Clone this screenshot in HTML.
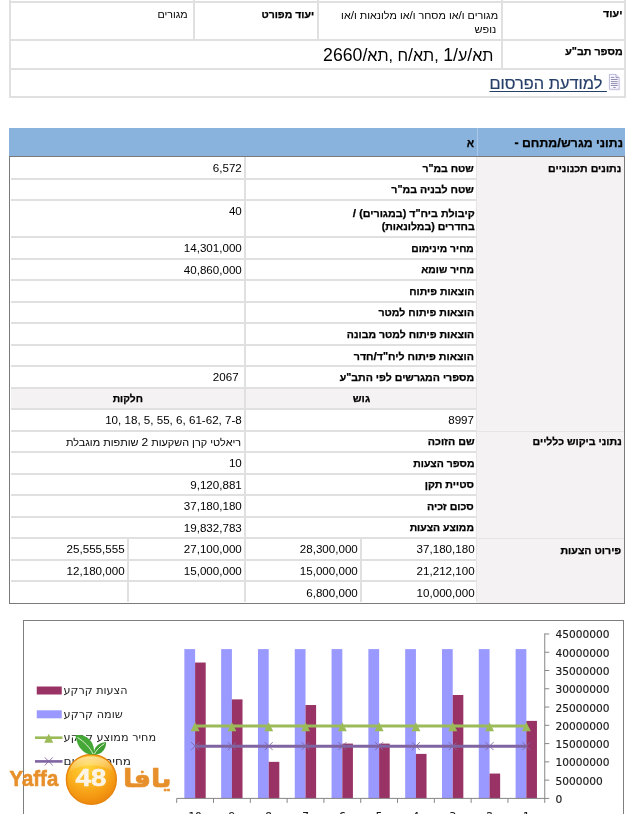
<!DOCTYPE html>
<html lang="he"><head><meta charset="utf-8"><title>נתוני מגרש</title>
<style>html,body{margin:0;padding:0;background:#fff}body{position:relative;width:640px;height:814px;overflow:hidden;font-family:'Liberation Sans','DejaVu Sans',sans-serif}</style>
</head><body>
<div style="position:absolute;left:9px;top:1px;width:617px;height:2px;background:#e0e0e0;"></div>
<div style="position:absolute;left:9px;top:39px;width:617px;height:2px;background:#e0e0e0;"></div>
<div style="position:absolute;left:9px;top:68px;width:617px;height:2px;background:#e0e0e0;"></div>
<div style="position:absolute;left:9px;top:96px;width:617px;height:2px;background:#e0e0e0;"></div>
<div style="position:absolute;left:9px;top:0px;width:2px;height:98px;background:#e0e0e0;"></div>
<div style="position:absolute;left:624px;top:0px;width:2px;height:98px;background:#e0e0e0;"></div>
<div style="position:absolute;left:193px;top:0px;width:2px;height:39px;background:#e0e0e0;"></div>
<div style="position:absolute;left:317px;top:0px;width:2px;height:39px;background:#e0e0e0;"></div>
<div style="position:absolute;left:501px;top:0px;width:2px;height:68px;background:#e0e0e0;"></div>
<div style="position:absolute;left:9px;top:128px;width:616px;height:29px;background:#89b3dd;"></div>
<div style="position:absolute;left:477px;top:128px;width:1px;height:28px;background:#a9c8e8;"></div>
<div style="position:absolute;left:9px;top:156px;width:616px;height:1px;background:#7a7a7a;"></div>
<div style="position:absolute;left:477px;top:157px;width:147px;height:446px;background:#f4f2f3;"></div>
<div style="position:absolute;left:11px;top:178px;width:466px;height:2px;background:#e0e0e0;"></div>
<div style="position:absolute;left:11px;top:199px;width:466px;height:2px;background:#e0e0e0;"></div>
<div style="position:absolute;left:11px;top:236px;width:466px;height:2px;background:#e0e0e0;"></div>
<div style="position:absolute;left:11px;top:258px;width:466px;height:2px;background:#e0e0e0;"></div>
<div style="position:absolute;left:11px;top:279px;width:466px;height:2px;background:#e0e0e0;"></div>
<div style="position:absolute;left:11px;top:301px;width:466px;height:2px;background:#e0e0e0;"></div>
<div style="position:absolute;left:11px;top:322px;width:466px;height:2px;background:#e0e0e0;"></div>
<div style="position:absolute;left:11px;top:344px;width:466px;height:2px;background:#e0e0e0;"></div>
<div style="position:absolute;left:11px;top:365px;width:466px;height:2px;background:#e0e0e0;"></div>
<div style="position:absolute;left:11px;top:387px;width:466px;height:2px;background:#e0e0e0;"></div>
<div style="position:absolute;left:11px;top:408px;width:466px;height:2px;background:#e0e0e0;"></div>
<div style="position:absolute;left:11px;top:430px;width:466px;height:2px;background:#e0e0e0;"></div>
<div style="position:absolute;left:11px;top:451px;width:466px;height:2px;background:#e0e0e0;"></div>
<div style="position:absolute;left:11px;top:473px;width:466px;height:2px;background:#e0e0e0;"></div>
<div style="position:absolute;left:11px;top:494px;width:466px;height:2px;background:#e0e0e0;"></div>
<div style="position:absolute;left:11px;top:516px;width:466px;height:2px;background:#e0e0e0;"></div>
<div style="position:absolute;left:11px;top:537px;width:466px;height:2px;background:#e0e0e0;"></div>
<div style="position:absolute;left:11px;top:559px;width:466px;height:2px;background:#e0e0e0;"></div>
<div style="position:absolute;left:11px;top:580px;width:466px;height:2px;background:#e0e0e0;"></div>
<div style="position:absolute;left:11px;top:389px;width:466px;height:19px;background:#f4f2f3;"></div>
<div style="position:absolute;left:477px;top:431px;width:147px;height:1px;background:#e6e4e5;"></div>
<div style="position:absolute;left:477px;top:538px;width:147px;height:1px;background:#e6e4e5;"></div>
<div style="position:absolute;left:244px;top:157px;width:2px;height:382px;background:#e0e0e0;"></div>
<div style="position:absolute;left:476px;top:157px;width:1px;height:445px;background:#e6e4e5;"></div>
<div style="position:absolute;left:244px;top:539px;width:2px;height:63px;background:#e0e0e0;"></div>
<div style="position:absolute;left:127px;top:539px;width:2px;height:63px;background:#e0e0e0;"></div>
<div style="position:absolute;left:360px;top:539px;width:2px;height:63px;background:#e0e0e0;"></div>
<div style="position:absolute;left:9px;top:156px;width:1px;height:448px;background:#7a7a7a;"></div>
<div style="position:absolute;left:624px;top:156px;width:1px;height:448px;background:#7a7a7a;"></div>
<div style="position:absolute;left:9px;top:603px;width:616px;height:1px;background:#7a7a7a;"></div>
<svg width="14" height="18" viewBox="0 0 14 18" style="position:absolute;left:608px;top:73px"><path d="M1.4 1.4H7.9L11.1 4.6V16.3H1.4Z" fill="#f8f7fd" stroke="#aeabd3" stroke-width="0.8"/><path d="M7.9 1.4V4.6H11.1" fill="#e6e3f5" stroke="#a19dca" stroke-width="0.7"/><path d="M2.9 4.4H6.3M8.3 4.4H9.7M2.9 6.5H9.7M2.9 8.6H9.7M2.9 10.6H9.7M2.9 12.5H9.7M5.3 14.5H7.6" stroke="#77739f" stroke-width="0.8" fill="none"/><path d="M1.8 16.9H11.7M11.7 5.2V16.9" stroke="#cfcce4" stroke-width="0.6" fill="none"/></svg>
<span id="t1" style="position:absolute;white-space:nowrap;right:17.60px;top:4.40px;height:20px;line-height:20px;font-size:10.2px;color:#000;font-family:'Liberation Sans','DejaVu Sans',sans-serif;direction:rtl;font-weight:bold;-webkit-text-stroke:0.25px #000;transform:scaleX(1.0522);transform-origin:100% 50%;">יעוד</span>
<span id="t2" style="position:absolute;white-space:nowrap;right:17.60px;top:41.80px;height:20px;line-height:20px;font-size:10.2px;color:#000;font-family:'Liberation Sans','DejaVu Sans',sans-serif;direction:rtl;font-weight:bold;-webkit-text-stroke:0.25px #000;transform:scaleX(1.0508);transform-origin:100% 50%;">מספר תב"ע</span>
<span id="t3" style="position:absolute;white-space:nowrap;right:141.50px;top:4.80px;height:20px;line-height:20px;font-size:10.2px;color:#000;font-family:'Liberation Sans','DejaVu Sans',sans-serif;direction:rtl;transform:scaleX(1.0603);transform-origin:100% 50%;">מגורים ו<span style="font-size:1.1em">/</span>או מסחר ו<span style="font-size:1.1em">/</span>או מלונאות ו<span style="font-size:1.1em">/</span>או</span>
<span id="t4" style="position:absolute;white-space:nowrap;right:144.10px;top:19.50px;height:20px;line-height:20px;font-size:10.2px;color:#000;font-family:'Liberation Sans','DejaVu Sans',sans-serif;direction:rtl;transform:scaleX(1.0708);transform-origin:100% 50%;">נופש</span>
<span id="t5" style="position:absolute;white-space:nowrap;right:326.10px;top:4.50px;height:20px;line-height:20px;font-size:10.2px;color:#000;font-family:'Liberation Sans','DejaVu Sans',sans-serif;direction:rtl;font-weight:bold;-webkit-text-stroke:0.25px #000;transform:scaleX(1.0312);transform-origin:100% 50%;">יעוד מפורט</span>
<span id="t6" style="position:absolute;white-space:nowrap;right:452.00px;top:4.50px;height:20px;line-height:20px;font-size:10.2px;color:#000;font-family:'Liberation Sans','DejaVu Sans',sans-serif;direction:rtl;transform:scaleX(1.0539);transform-origin:100% 50%;">מגורים</span>
<span id="t7" style="position:absolute;white-space:nowrap;right:146.50px;top:45.20px;height:20px;line-height:20px;font-size:16px;color:#000;font-family:'Liberation Sans','DejaVu Sans',sans-serif;direction:rtl;transform:scaleX(1.0056);transform-origin:100% 50%;">תא<span style="font-size:1.1em">/</span>ע<span style="font-size:1.1em">/1</span> ,תא<span style="font-size:1.1em">/</span>ח ,תא<span style="font-size:1.1em">/2660</span></span>
<a id="t8" style="position:absolute;white-space:nowrap;right:33.10px;top:74.00px;height:20px;line-height:20px;font-size:16px;color:#263f69;font-family:'Liberation Sans','DejaVu Sans',sans-serif;direction:rtl;text-decoration:underline;text-decoration-thickness:1.3px;text-underline-offset:1.6px;-webkit-text-stroke:0.2px #263f69;transform:scaleX(1.0217);transform-origin:100% 50%;"> למודעת הפרסום</a>
<span id="t9" style="position:absolute;white-space:nowrap;right:17.40px;top:133.20px;height:20px;line-height:20px;font-size:12px;color:#000;font-family:'Liberation Sans','DejaVu Sans',sans-serif;direction:rtl;font-weight:bold;-webkit-text-stroke:0.25px #000;transform:scaleX(1.0240);transform-origin:100% 50%;">נתוני מגרש<span style="font-size:1.1em">/</span>מתחם -</span>
<span id="t10" style="position:absolute;white-space:nowrap;right:165.80px;top:133.20px;height:20px;line-height:20px;font-size:12px;color:#000;font-family:'Liberation Sans','DejaVu Sans',sans-serif;direction:rtl;font-weight:bold;-webkit-text-stroke:0.25px #000;transform:scaleX(0.9000);transform-origin:100% 50%;">א</span>
<span id="t11" style="position:absolute;white-space:nowrap;right:18.70px;top:158.72px;height:20px;line-height:20px;font-size:10.2px;color:#000;font-family:'Liberation Sans','DejaVu Sans',sans-serif;direction:rtl;font-weight:bold;-webkit-text-stroke:0.25px #000;transform:scaleX(1.0425);transform-origin:100% 50%;">נתונים תכנוניים</span>
<span id="t12" style="position:absolute;white-space:nowrap;right:18.70px;top:432.28px;height:20px;line-height:20px;font-size:10.2px;color:#000;font-family:'Liberation Sans','DejaVu Sans',sans-serif;direction:rtl;font-weight:bold;-webkit-text-stroke:0.25px #000;transform:scaleX(1.0408);transform-origin:100% 50%;">נתוני ביקוש כלליים</span>
<span id="t13" style="position:absolute;white-space:nowrap;right:18.70px;top:540.80px;height:20px;line-height:20px;font-size:10.2px;color:#000;font-family:'Liberation Sans','DejaVu Sans',sans-serif;direction:rtl;font-weight:bold;-webkit-text-stroke:0.25px #000;transform:scaleX(1.0432);transform-origin:100% 50%;">פירוט הצעות</span>
<span id="t14" style="position:absolute;white-space:nowrap;right:165.75px;top:158.72px;height:20px;line-height:20px;font-size:10.2px;color:#000;font-family:'Liberation Sans','DejaVu Sans',sans-serif;direction:rtl;font-weight:bold;-webkit-text-stroke:0.25px #000;transform:scaleX(1.0312);transform-origin:100% 50%;">שטח במ"ר</span>
<span id="t15" style="position:absolute;white-space:nowrap;right:165.75px;top:180.22px;height:20px;line-height:20px;font-size:10.2px;color:#000;font-family:'Liberation Sans','DejaVu Sans',sans-serif;direction:rtl;font-weight:bold;-webkit-text-stroke:0.25px #000;transform:scaleX(1.0466);transform-origin:100% 50%;">שטח לבניה במ"ר</span>
<span id="t16" style="position:absolute;white-space:nowrap;right:165.75px;top:238.67px;height:20px;line-height:20px;font-size:10.2px;color:#000;font-family:'Liberation Sans','DejaVu Sans',sans-serif;direction:rtl;font-weight:bold;-webkit-text-stroke:0.25px #000;transform:scaleX(1.0120);transform-origin:100% 50%;">מחיר מינימום</span>
<span id="t17" style="position:absolute;white-space:nowrap;right:165.75px;top:260.35px;height:20px;line-height:20px;font-size:10.2px;color:#000;font-family:'Liberation Sans','DejaVu Sans',sans-serif;direction:rtl;font-weight:bold;-webkit-text-stroke:0.25px #000;transform:scaleX(1.0128);transform-origin:100% 50%;">מחיר שומא</span>
<span id="t18" style="position:absolute;white-space:nowrap;right:165.75px;top:281.93px;height:20px;line-height:20px;font-size:10.2px;color:#000;font-family:'Liberation Sans','DejaVu Sans',sans-serif;direction:rtl;font-weight:bold;-webkit-text-stroke:0.25px #000;transform:scaleX(1.0275);transform-origin:100% 50%;">הוצאות פיתוח</span>
<span id="t19" style="position:absolute;white-space:nowrap;right:165.75px;top:303.35px;height:20px;line-height:20px;font-size:10.2px;color:#000;font-family:'Liberation Sans','DejaVu Sans',sans-serif;direction:rtl;font-weight:bold;-webkit-text-stroke:0.25px #000;transform:scaleX(1.0381);transform-origin:100% 50%;">הוצאות פיתוח למטר</span>
<span id="t20" style="position:absolute;white-space:nowrap;right:165.75px;top:324.90px;height:20px;line-height:20px;font-size:10.2px;color:#000;font-family:'Liberation Sans','DejaVu Sans',sans-serif;direction:rtl;font-weight:bold;-webkit-text-stroke:0.25px #000;transform:scaleX(1.0338);transform-origin:100% 50%;">הוצאות פיתוח למטר מבונה</span>
<span id="t21" style="position:absolute;white-space:nowrap;right:165.75px;top:346.48px;height:20px;line-height:20px;font-size:10.2px;color:#000;font-family:'Liberation Sans','DejaVu Sans',sans-serif;direction:rtl;font-weight:bold;-webkit-text-stroke:0.25px #000;transform:scaleX(1.0458);transform-origin:100% 50%;">הוצאות פיתוח ליח"ד<span style="font-size:1.1em">/</span>חדר</span>
<span id="t22" style="position:absolute;white-space:nowrap;right:165.75px;top:367.93px;height:20px;line-height:20px;font-size:10.2px;color:#000;font-family:'Liberation Sans','DejaVu Sans',sans-serif;direction:rtl;font-weight:bold;-webkit-text-stroke:0.25px #000;transform:scaleX(1.0406);transform-origin:100% 50%;">מספרי המגרשים לפי התב"ע</span>
<span id="t23" style="position:absolute;white-space:nowrap;right:165.75px;top:432.28px;height:20px;line-height:20px;font-size:10.2px;color:#000;font-family:'Liberation Sans','DejaVu Sans',sans-serif;direction:rtl;font-weight:bold;-webkit-text-stroke:0.25px #000;transform:scaleX(1.0510);transform-origin:100% 50%;">שם הזוכה</span>
<span id="t24" style="position:absolute;white-space:nowrap;right:165.75px;top:453.85px;height:20px;line-height:20px;font-size:10.2px;color:#000;font-family:'Liberation Sans','DejaVu Sans',sans-serif;direction:rtl;font-weight:bold;-webkit-text-stroke:0.25px #000;transform:scaleX(1.0306);transform-origin:100% 50%;">מספר הצעות</span>
<span id="t25" style="position:absolute;white-space:nowrap;right:165.75px;top:475.23px;height:20px;line-height:20px;font-size:10.2px;color:#000;font-family:'Liberation Sans','DejaVu Sans',sans-serif;direction:rtl;font-weight:bold;-webkit-text-stroke:0.25px #000;transform:scaleX(1.0486);transform-origin:100% 50%;">סטיית תקן</span>
<span id="t26" style="position:absolute;white-space:nowrap;right:165.75px;top:496.65px;height:20px;line-height:20px;font-size:10.2px;color:#000;font-family:'Liberation Sans','DejaVu Sans',sans-serif;direction:rtl;font-weight:bold;-webkit-text-stroke:0.25px #000;transform:scaleX(1.0455);transform-origin:100% 50%;">סכום זכיה</span>
<span id="t27" style="position:absolute;white-space:nowrap;right:165.75px;top:518.20px;height:20px;line-height:20px;font-size:10.2px;color:#000;font-family:'Liberation Sans','DejaVu Sans',sans-serif;direction:rtl;font-weight:bold;-webkit-text-stroke:0.25px #000;transform:scaleX(1.0217);transform-origin:100% 50%;">ממוצע הצעות</span>
<span id="t28" style="position:absolute;white-space:nowrap;right:165.75px;top:202.50px;height:20px;line-height:20px;font-size:10.2px;color:#000;font-family:'Liberation Sans','DejaVu Sans',sans-serif;direction:rtl;font-weight:bold;-webkit-text-stroke:0.25px #000;transform:scaleX(1.0531);transform-origin:100% 50%;">קיבולת ביח"ד (במגורים) <span style="font-size:1.1em">/</span></span>
<span id="t29" style="position:absolute;white-space:nowrap;right:165.75px;top:217.00px;height:20px;line-height:20px;font-size:10.2px;color:#000;font-family:'Liberation Sans','DejaVu Sans',sans-serif;direction:rtl;font-weight:bold;-webkit-text-stroke:0.25px #000;transform:scaleX(1.0375);transform-origin:100% 50%;">בחדרים (במלונאות)</span>
<span id="t30" style="position:absolute;white-space:nowrap;right:398.20px;top:158.28px;height:20px;line-height:20px;font-size:11.6px;color:#000;font-family:'Liberation Sans','DejaVu Sans',sans-serif;direction:ltr;">6,572</span>
<span id="t31" style="position:absolute;white-space:nowrap;right:398.20px;top:238.22px;height:20px;line-height:20px;font-size:11.6px;color:#000;font-family:'Liberation Sans','DejaVu Sans',sans-serif;direction:ltr;">14,301,000</span>
<span id="t32" style="position:absolute;white-space:nowrap;right:398.20px;top:259.90px;height:20px;line-height:20px;font-size:11.6px;color:#000;font-family:'Liberation Sans','DejaVu Sans',sans-serif;direction:ltr;">40,860,000</span>
<span id="t33" style="position:absolute;white-space:nowrap;right:401.40px;top:367.48px;height:20px;line-height:20px;font-size:11.6px;color:#000;font-family:'Liberation Sans','DejaVu Sans',sans-serif;direction:ltr;">2067</span>
<span id="t34" style="position:absolute;white-space:nowrap;right:398.20px;top:453.40px;height:20px;line-height:20px;font-size:11.6px;color:#000;font-family:'Liberation Sans','DejaVu Sans',sans-serif;direction:ltr;">10</span>
<span id="t35" style="position:absolute;white-space:nowrap;right:398.20px;top:474.78px;height:20px;line-height:20px;font-size:11.6px;color:#000;font-family:'Liberation Sans','DejaVu Sans',sans-serif;direction:ltr;">9,120,881</span>
<span id="t36" style="position:absolute;white-space:nowrap;right:398.20px;top:496.20px;height:20px;line-height:20px;font-size:11.6px;color:#000;font-family:'Liberation Sans','DejaVu Sans',sans-serif;direction:ltr;">37,180,180</span>
<span id="t37" style="position:absolute;white-space:nowrap;right:398.20px;top:517.75px;height:20px;line-height:20px;font-size:11.6px;color:#000;font-family:'Liberation Sans','DejaVu Sans',sans-serif;direction:ltr;">19,832,783</span>
<span id="t38" style="position:absolute;white-space:nowrap;right:398.20px;top:201.30px;height:20px;line-height:20px;font-size:11.6px;color:#000;font-family:'Liberation Sans','DejaVu Sans',sans-serif;direction:ltr;">40</span>
<span id="t39" style="position:absolute;white-space:nowrap;right:270.25px;top:389.18px;height:20px;line-height:20px;font-size:10.2px;color:#000;font-family:'Liberation Sans','DejaVu Sans',sans-serif;direction:rtl;font-weight:bold;-webkit-text-stroke:0.25px #000;transform:scaleX(1.0729);transform-origin:100% 50%;">גוש</span>
<span id="t40" style="position:absolute;white-space:nowrap;right:497.10px;top:389.18px;height:20px;line-height:20px;font-size:10.2px;color:#000;font-family:'Liberation Sans','DejaVu Sans',sans-serif;direction:rtl;font-weight:bold;-webkit-text-stroke:0.25px #000;transform:scaleX(1.0098);transform-origin:100% 50%;">חלקות</span>
<span id="t41" style="position:absolute;white-space:nowrap;right:166.00px;top:410.08px;height:20px;line-height:20px;font-size:11.6px;color:#000;font-family:'Liberation Sans','DejaVu Sans',sans-serif;direction:ltr;">8997</span>
<span id="t42" style="position:absolute;white-space:nowrap;right:398.20px;top:410.08px;height:20px;line-height:20px;font-size:11.6px;color:#000;font-family:'Liberation Sans','DejaVu Sans',sans-serif;direction:ltr;">10, 18, 5, 55, 6, 61-62, 7-8</span>
<span id="t43" style="position:absolute;white-space:nowrap;right:398.70px;top:432.28px;height:20px;line-height:20px;font-size:10.2px;color:#000;font-family:'Liberation Sans','DejaVu Sans',sans-serif;direction:rtl;transform:scaleX(1.0676);transform-origin:100% 50%;">ריאלטי קרן השקעות <span style="font-size:1.1em">2</span> שותפות מוגבלת</span>
<span id="t44" style="position:absolute;white-space:nowrap;right:165.40px;top:539.45px;height:20px;line-height:20px;font-size:11.6px;color:#000;font-family:'Liberation Sans','DejaVu Sans',sans-serif;direction:ltr;">37,180,180</span>
<span id="t45" style="position:absolute;white-space:nowrap;right:282.20px;top:539.45px;height:20px;line-height:20px;font-size:11.6px;color:#000;font-family:'Liberation Sans','DejaVu Sans',sans-serif;direction:ltr;">28,300,000</span>
<span id="t46" style="position:absolute;white-space:nowrap;right:398.20px;top:539.45px;height:20px;line-height:20px;font-size:11.6px;color:#000;font-family:'Liberation Sans','DejaVu Sans',sans-serif;direction:ltr;">27,100,000</span>
<span id="t47" style="position:absolute;white-space:nowrap;right:515.40px;top:539.45px;height:20px;line-height:20px;font-size:11.6px;color:#000;font-family:'Liberation Sans','DejaVu Sans',sans-serif;direction:ltr;">25,555,555</span>
<span id="t48" style="position:absolute;white-space:nowrap;right:165.40px;top:561.02px;height:20px;line-height:20px;font-size:11.6px;color:#000;font-family:'Liberation Sans','DejaVu Sans',sans-serif;direction:ltr;">21,212,100</span>
<span id="t49" style="position:absolute;white-space:nowrap;right:282.20px;top:561.02px;height:20px;line-height:20px;font-size:11.6px;color:#000;font-family:'Liberation Sans','DejaVu Sans',sans-serif;direction:ltr;">15,000,000</span>
<span id="t50" style="position:absolute;white-space:nowrap;right:398.20px;top:561.02px;height:20px;line-height:20px;font-size:11.6px;color:#000;font-family:'Liberation Sans','DejaVu Sans',sans-serif;direction:ltr;">15,000,000</span>
<span id="t51" style="position:absolute;white-space:nowrap;right:515.40px;top:561.02px;height:20px;line-height:20px;font-size:11.6px;color:#000;font-family:'Liberation Sans','DejaVu Sans',sans-serif;direction:ltr;">12,180,000</span>
<span id="t52" style="position:absolute;white-space:nowrap;right:165.40px;top:582.77px;height:20px;line-height:20px;font-size:11.6px;color:#000;font-family:'Liberation Sans','DejaVu Sans',sans-serif;direction:ltr;">10,000,000</span>
<span id="t53" style="position:absolute;white-space:nowrap;right:282.20px;top:582.77px;height:20px;line-height:20px;font-size:11.6px;color:#000;font-family:'Liberation Sans','DejaVu Sans',sans-serif;direction:ltr;">6,800,000</span>
<svg width="640" height="814" viewBox="0 0 640 814" style="position:absolute;left:0;top:0;overflow:hidden" font-family="'DejaVu Sans','Liberation Sans',sans-serif">
<rect x="23.5" y="620.5" width="600" height="230" fill="#fff" stroke="#7f7f7f" stroke-width="1"/>
<rect x="184.35" y="649.10" width="10.75" height="149.30" fill="#9999ff"/>
<rect x="195.10" y="662.54" width="10.6" height="135.86" fill="#993366"/>
<rect x="221.16" y="649.10" width="10.75" height="149.30" fill="#9999ff"/>
<rect x="231.91" y="699.38" width="10.6" height="99.02" fill="#993366"/>
<rect x="257.96" y="649.10" width="10.75" height="149.30" fill="#9999ff"/>
<rect x="268.71" y="761.86" width="10.6" height="36.54" fill="#993366"/>
<rect x="294.76" y="649.10" width="10.75" height="149.30" fill="#9999ff"/>
<rect x="305.51" y="705.02" width="10.6" height="93.38" fill="#993366"/>
<rect x="331.57" y="649.10" width="10.75" height="149.30" fill="#9999ff"/>
<rect x="342.32" y="743.59" width="10.6" height="54.81" fill="#993366"/>
<rect x="368.38" y="649.10" width="10.75" height="149.30" fill="#9999ff"/>
<rect x="379.12" y="743.59" width="10.6" height="54.81" fill="#993366"/>
<rect x="405.18" y="649.10" width="10.75" height="149.30" fill="#9999ff"/>
<rect x="415.93" y="753.89" width="10.6" height="44.51" fill="#993366"/>
<rect x="441.98" y="649.10" width="10.75" height="149.30" fill="#9999ff"/>
<rect x="452.73" y="694.99" width="10.6" height="103.41" fill="#993366"/>
<rect x="478.79" y="649.10" width="10.75" height="149.30" fill="#9999ff"/>
<rect x="489.54" y="773.55" width="10.6" height="24.85" fill="#993366"/>
<rect x="515.60" y="649.10" width="10.75" height="149.30" fill="#9999ff"/>
<rect x="526.35" y="720.89" width="10.6" height="77.51" fill="#993366"/>
<g stroke="#868686" stroke-width="1" fill="none">
<path d="M176.70 798.4H544.75M544.75 798.9V633.47"/>
<path d="M176.70 798.4v4.5M213.50 798.4v4.5M250.31 798.4v4.5M287.12 798.4v4.5M323.92 798.4v4.5M360.73 798.4v4.5M397.53 798.4v4.5M434.33 798.4v4.5M471.14 798.4v4.5M507.94 798.4v4.5M544.75 798.4v4.5M544.75 798.40h4.5M544.75 780.13h4.5M544.75 761.86h4.5M544.75 743.59h4.5M544.75 725.32h4.5M544.75 707.05h4.5M544.75 688.78h4.5M544.75 670.51h4.5M544.75 652.24h4.5M544.75 633.97h4.5"/></g>
<g font-size="10.5" fill="#1a1a1a" stroke="#1a1a1a" stroke-width="0.15">
<text x="555.4" y="802.90" textLength="6.8" lengthAdjust="spacingAndGlyphs">0</text>
<text x="555.4" y="784.63" textLength="47.3" lengthAdjust="spacingAndGlyphs">5000000</text>
<text x="555.4" y="766.36" textLength="54.1" lengthAdjust="spacingAndGlyphs">10000000</text>
<text x="555.4" y="748.09" textLength="54.1" lengthAdjust="spacingAndGlyphs">15000000</text>
<text x="555.4" y="729.82" textLength="54.1" lengthAdjust="spacingAndGlyphs">20000000</text>
<text x="555.4" y="711.55" textLength="54.1" lengthAdjust="spacingAndGlyphs">25000000</text>
<text x="555.4" y="693.28" textLength="54.1" lengthAdjust="spacingAndGlyphs">30000000</text>
<text x="555.4" y="675.01" textLength="54.1" lengthAdjust="spacingAndGlyphs">35000000</text>
<text x="555.4" y="656.74" textLength="54.1" lengthAdjust="spacingAndGlyphs">40000000</text>
<text x="555.4" y="638.47" textLength="54.1" lengthAdjust="spacingAndGlyphs">45000000</text>
<text x="195.10" y="819.6" text-anchor="middle">10</text>
<text x="231.91" y="819.6" text-anchor="middle">9</text>
<text x="268.71" y="819.6" text-anchor="middle">8</text>
<text x="305.52" y="819.6" text-anchor="middle">7</text>
<text x="342.32" y="819.6" text-anchor="middle">6</text>
<text x="379.13" y="819.6" text-anchor="middle">5</text>
<text x="415.93" y="819.6" text-anchor="middle">4</text>
<text x="452.74" y="819.6" text-anchor="middle">3</text>
<text x="489.54" y="819.6" text-anchor="middle">2</text>
<text x="526.35" y="819.6" text-anchor="middle">1</text>
</g>
<path d="M195.10 725.93H526.35" stroke="#9bbb59" stroke-width="3" fill="none"/>
<path d="M195.10 746.14H526.35" stroke="#8064a2" stroke-width="3" fill="none"/>
<path d="M195.10 722.13l4.5 9h-9zM231.91 722.13l4.5 9h-9zM268.71 722.13l4.5 9h-9zM305.52 722.13l4.5 9h-9zM342.32 722.13l4.5 9h-9zM379.13 722.13l4.5 9h-9zM415.93 722.13l4.5 9h-9zM452.74 722.13l4.5 9h-9zM489.54 722.13l4.5 9h-9zM526.35 722.13l4.5 9h-9z" fill="#9bbb59"/>
<path d="M191.10 742.14l8 8m0 -8l-8 8M227.91 742.14l8 8m0 -8l-8 8M264.71 742.14l8 8m0 -8l-8 8M301.52 742.14l8 8m0 -8l-8 8M338.32 742.14l8 8m0 -8l-8 8M375.13 742.14l8 8m0 -8l-8 8M411.93 742.14l8 8m0 -8l-8 8M448.74 742.14l8 8m0 -8l-8 8M485.54 742.14l8 8m0 -8l-8 8M522.35 742.14l8 8m0 -8l-8 8" stroke="#8064a2" stroke-width="0.9" fill="none"/>
<rect x="36.75" y="686.5" width="25" height="8" fill="#993366"/>
<rect x="36.75" y="710.3" width="25" height="8" fill="#9999ff"/>
<path d="M35 737.7H62.5" stroke="#9bbb59" stroke-width="2.6"/><path d="M48.75 733.70l4.5 9h-9z" fill="#9bbb59"/>
<path d="M35 761.4H62.5" stroke="#8064a2" stroke-width="2.6"/><path d="M44.75 757.40l8 8m0 -8l-8 8" stroke="#8064a2" stroke-width="0.9" fill="none"/>
<g font-size="11.2" fill="#222">
<text x="63.6" y="694.3" textLength="63.9" lengthAdjust="spacingAndGlyphs">הצעות קרקע</text>
<text x="63.6" y="717.8" textLength="59.3" lengthAdjust="spacingAndGlyphs">שומה קרקע</text>
<text x="63.6" y="741.3" textLength="92.5" lengthAdjust="spacingAndGlyphs">מחיר ממוצע קרקע</text>
<text x="63.6" y="764.8" textLength="67.5" lengthAdjust="spacingAndGlyphs">מחיר מינימום</text>
</g>
</svg>
<svg width="640" height="814" viewBox="0 0 640 814" style="position:absolute;left:0;top:0;overflow:hidden">
<defs>
<radialGradient id="og" cx="0.42" cy="0.25" r="0.8">
<stop offset="0" stop-color="#ffd53c"/><stop offset="0.4" stop-color="#fcb822"/><stop offset="0.8" stop-color="#f39410"/><stop offset="1" stop-color="#e8840f"/>
</radialGradient>
<linearGradient id="hl" x1="0" y1="0" x2="0" y2="1"><stop offset="0" stop-color="#fff" stop-opacity="0.5"/><stop offset="1" stop-color="#fff" stop-opacity="0.05"/></linearGradient>
</defs>
<g opacity="0.92" fill="#e6871a" stroke="#e6871a" stroke-width="0.7" stroke-linejoin="round">
<text x="9.6" y="785.9" font-family="'Liberation Sans',sans-serif" font-weight="bold" font-size="22.9" textLength="48.6" lengthAdjust="spacingAndGlyphs">Yaffa</text>
<text transform="translate(171.6 787) scale(1.07 1)" x="0" y="0" text-anchor="start" direction="rtl" font-family="'DejaVu Sans',sans-serif" font-weight="bold" font-size="25.5">يافا</text>
</g>
<circle cx="91.35" cy="779.4" r="24.9" fill="url(#og)" stroke="#e6860f" stroke-width="1.5"/>
<path d="M69.5 772C71 761 80 756.5 91 756.5C102 756.5 111.5 761 113 772C106 767 99 765.5 91 765.5C83 765.5 76 767 69.5 772Z" fill="url(#hl)"/>
<path d="M92.8 754.6C86 755.2 77 749 75.5 735.3C85 733.4 96 741 93.9 754.6Z" fill="#45a836"/>
<path d="M93.9 754.6C93.4 748 98 742.6 106 742.1C106.6 749 101 755.6 93.9 754.6Z" fill="#3f9f33"/>
<path d="M77.5 737.5C84 741.5 90.5 748 93 754M104.5 743.6C100 746.5 96.5 750 94.4 754" stroke="#dff1d2" stroke-width="1" fill="none"/>
<text x="75.6" y="785.7" font-family="'Liberation Sans',sans-serif" font-weight="bold" font-size="23.2" fill="#fcf4e6" stroke="#fcf4e6" stroke-width="0.6" textLength="30.6" lengthAdjust="spacingAndGlyphs">48</text>
</svg>
</body></html>
